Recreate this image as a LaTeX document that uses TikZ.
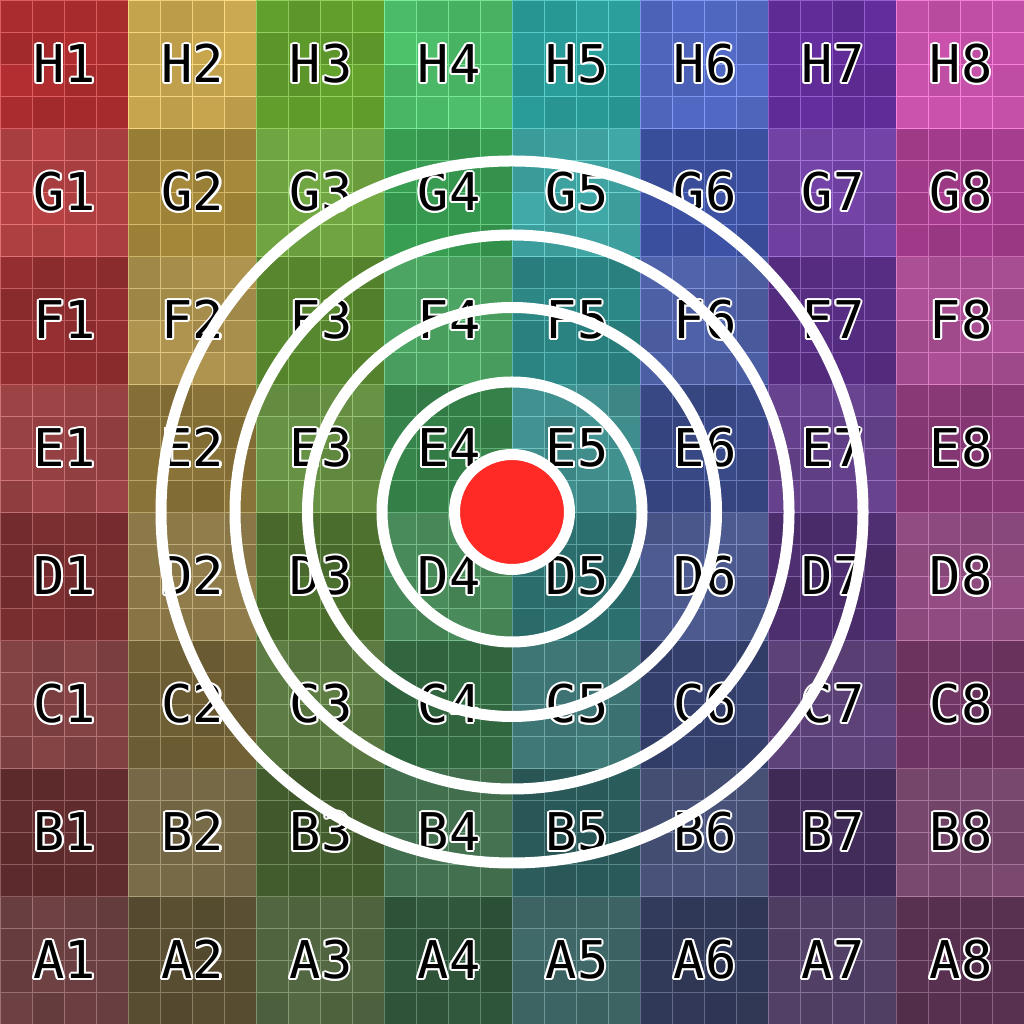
\documentclass[tikz,border=0pt]{standalone}
\usepackage{fontspec}
\newfontfamily\labfont{DejaVu Sans Mono}
\definecolor{dotred}{RGB}{255,42,38}
\tikzset{
  lbl/.style={font=\labfont\fontsize{52}{52}\selectfont, inner sep=0pt, outer sep=0pt, anchor=base},
  ring/.style={circle, draw=white, line width=11pt, inner sep=0pt, outer sep=0pt},
  dotstyle/.style={circle, fill=dotred, draw=white, line width=11pt, inner sep=0pt, outer sep=0pt, minimum size=115pt}
}
\begin{document}
\begin{tikzpicture}[x=1pt,y=1pt]
\useasboundingbox (0,0) rectangle (1024,1024);
\pgfmathsetseed{7}
% colored grid
\foreach \c in {1,...,8}{
  \pgfmathsetmacro\bR{{185,190,105,60,45,65,105,190}[\c-1]}
  \pgfmathsetmacro\bG{{48,155,170,180,168,90,48,65}[\c-1]}
  \pgfmathsetmacro\bB{{50,62,48,90,165,185,165,160}[\c-1]}
  \foreach \r in {1,...,8}{
    \pgfmathsetmacro\t{(8-\r)/7*0.5}
    \pgfmathsetmacro\b{1-(8-\r)/7*0.32}
    \pgfmathtruncatemacro\odd{mod(\r+\c,2)}
    \pgfmathsetmacro\add{\odd==1?0:20}
    \foreach \i in {0,...,3}{
      \foreach \j in {0,...,3}{
        \pgfmathsetmacro\n{1+(rnd-0.5)*0.1}
        \pgfmathtruncatemacro\R{min(255,max(0,((\bR*(1-\t)+90*\t)*\b*0.92+\add)*\n))}
        \pgfmathtruncatemacro\G{min(255,max(0,((\bG*(1-\t)+90*\t)*\b*0.92+\add)*\n))}
        \pgfmathtruncatemacro\B{min(255,max(0,((\bB*(1-\t)+94*\t)*\b*0.92+\add)*\n))}
        \pgfmathtruncatemacro\LR{min(255,\R+50)}
        \pgfmathtruncatemacro\LG{min(255,\G+50)}
        \pgfmathtruncatemacro\LB{min(255,\B+50)}
        \definecolor{cc}{RGB}{\R,\G,\B}
        \definecolor{gl}{RGB}{\LR,\LG,\LB}
        \filldraw[fill=cc, draw=gl, line width=0.9pt]
          ({(\c-1)*128+\i*32},{(\r-1)*128+\j*32}) rectangle +(32,32);
      }
    }
  }
}
% labels
\foreach \L [count=\r] in {A,B,C,D,E,F,G,H}{
  \foreach \c in {1,...,8}{
    \foreach \a in {0,30,...,330}{
      \node[lbl, text=white, shift={(\a:2)}] (o\L\c-\a) at ({(\c-1)*128+65},{(\r-1)*128+45}) {\L\c};
    }
    \node[lbl, text=black] (l\L\c) at ({(\c-1)*128+65},{(\r-1)*128+45}) {\L\c};
  }
}
% rings
\coordinate (o) at (512,512);
\node[ring, minimum size=702pt] (ring4) at (o) {};
\node[ring, minimum size=554pt] (ring3) at (o) {};
\node[ring, minimum size=409pt] (ring2) at (o) {};
\node[ring, minimum size=260pt] (ring1) at (o) {};
\node[dotstyle] (dot) at (o) {};
\end{tikzpicture}
\end{document}
